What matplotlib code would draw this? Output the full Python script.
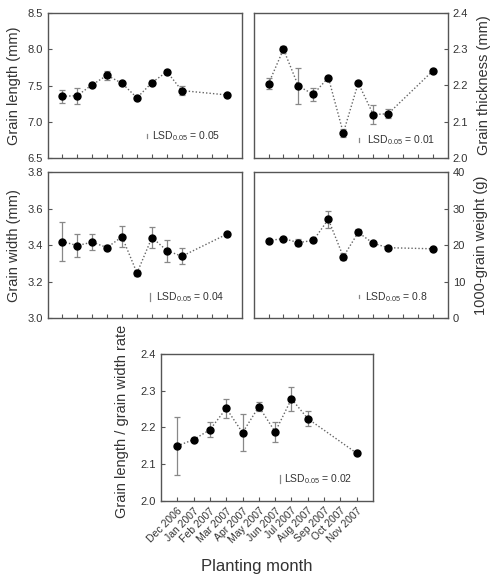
import matplotlib
matplotlib.use("Agg")
import matplotlib.pyplot as plt
import numpy as np

plt.rcParams['font.family'] = ['Liberation Sans', 'DejaVu Sans']
plt.rcParams['mathtext.fontset'] = 'custom'
plt.rcParams['mathtext.rm'] = 'Liberation Sans'
plt.rcParams['mathtext.it'] = 'Liberation Sans:italic'
plt.rcParams['mathtext.bf'] = 'Liberation Sans:bold'

months = ["Dec 2006", "Jan 2007", "Feb 2007", "Mar 2007", "Apr 2007", "May 2007",
          "Jun 2007", "Jul 2007", "Aug 2007", "Sep 2007", "Oct 2007", "Nov 2007"]
sampled = [0, 1, 2, 3, 4, 5, 6, 7, 8, 11]

grain_length = [7.35, 7.36, 7.51, 7.64, 7.53, 7.33, 7.54, 7.69, 7.43, 7.37]
grain_length_err = [0.09, 0.11, 0.02, 0.06, 0.02, 0.02, 0.03, 0.03, 0.06, 0.01]

grain_thickness = [2.205, 2.300, 2.198, 2.176, 2.222, 2.069, 2.207, 2.120, 2.122, 2.241]
grain_thickness_err = [0.016, 0.010, 0.050, 0.018, 0.005, 0.012, 0.005, 0.027, 0.013, 0.004]

grain_width = [3.42, 3.398, 3.416, 3.387, 3.446, 3.247, 3.442, 3.37, 3.339, 3.46]
grain_width_err = [0.105, 0.063, 0.044, 0.012, 0.058, 0.015, 0.06, 0.06, 0.043, 0.008]

grain_weight = [21.25, 21.8, 20.7, 21.3, 27.1, 16.8, 23.5, 20.5, 19.3, 19.0]
grain_weight_err = [0.5, 0.5, 1.0, 0.5, 2.4, 1.0, 0.8, 0.5, 0.4, 0.3]

lw_rate = [2.150, 2.167, 2.194, 2.252, 2.186, 2.257, 2.188, 2.278, 2.224, 2.130]
lw_rate_err = [0.078, 0.004, 0.020, 0.025, 0.050, 0.013, 0.027, 0.033, 0.020, 0.003]

lsd_values = ["0.05", "0.01", "0.04", "0.8", "0.02"]

W, H = 499, 575
fig = plt.figure(figsize=(W / 100, H / 100), dpi=100)

def px_axes(l, t, r, b):
    return fig.add_axes([l / W, 1 - b / H, (r - l) / W, (b - t) / H])

GREY = '#555555'
TXT = '#333333'

def style(ax, ylim, yticks, yfmt, right=False):
    ax.set_xlim(-0.95, 12.0)
    ax.set_ylim(*ylim)
    ax.set_yticks(yticks)
    ax.set_yticklabels([yfmt.format(v) for v in yticks])
    ax.set_xticks(range(len(months)))
    for s in ax.spines.values():
        s.set_color(GREY)
        s.set_linewidth(1.0)
    ax.tick_params(direction='in', length=3, width=0.8, color=GREY,
                   labelsize=8, labelcolor=TXT, top=False)
    if right:
        ax.yaxis.tick_right()
        ax.yaxis.set_label_position('right')
        ax.tick_params(axis='y', direction='in', length=3, left=False, right=True)

def plot_series(ax, y, e):
    x = np.array(sampled)
    ax.plot(x, y, linestyle=(0, (1, 1.5)), color='#666666', lw=1.0, zorder=1)
    ax.errorbar(x, y, yerr=e, fmt='none', ecolor='#888888', elinewidth=0.9,
                capsize=2, capthick=0.9, zorder=2)
    ax.plot(x, y, 'o', color='black', ms=5, zorder=3)

def lsd(ax, xb, yb, val, lsd_len, xt):
    ax.plot([xb, xb], [yb - lsd_len / 2, yb + lsd_len / 2], color='#888888', lw=0.9)
    ax.text(xt, yb, r'LSD$_{0.05}$ = ' + val, fontsize=7.5, color=TXT,
            va='center', ha='left')

# Top-left: grain length
ax1 = px_axes(48, 13, 241.7, 158)
plot_series(ax1, grain_length, grain_length_err)
style(ax1, (6.5, 8.5), [6.5, 7.0, 7.5, 8.0, 8.5], '{:.1f}')
ax1.set_xticklabels([])
ax1.set_ylabel('Grain length (mm)', fontsize=10.5, color=TXT, labelpad=5)
lsd(ax1, 5.7, 6.8, lsd_values[0], 0.05, 6.0)

# Top-right: grain thickness
ax2 = px_axes(254.3, 13, 448, 158)
plot_series(ax2, grain_thickness, grain_thickness_err)
style(ax2, (2.0, 2.4), [2.0, 2.1, 2.2, 2.3, 2.4], '{:.1f}', right=True)
ax2.set_xticklabels([])
ax2.set_ylabel('Grain thickness (mm)', fontsize=10.5, color=TXT, labelpad=6)
lsd(ax2, 6.05, 2.05, lsd_values[1], 0.01, 6.6)

# Middle-left: grain width
ax3 = px_axes(48, 172.3, 241.7, 318)
plot_series(ax3, grain_width, grain_width_err)
style(ax3, (3.0, 3.8), [3.0, 3.2, 3.4, 3.6, 3.8], '{:.1f}')
ax3.set_xticklabels([])
ax3.set_ylabel('Grain width (mm)', fontsize=10.5, color=TXT, labelpad=5)
lsd(ax3, 5.9, 3.116, lsd_values[2], 0.04, 6.25)

# Middle-right: 1000-grain weight
ax4 = px_axes(254.3, 172.3, 448, 318)
plot_series(ax4, grain_weight, grain_weight_err)
style(ax4, (0, 40), [0, 10, 20, 30, 40], '{:.0f}', right=True)
ax4.set_xticklabels([])
ax4.set_ylabel('1000-grain weight (g)', fontsize=10.5, color=TXT, labelpad=6)
lsd(ax4, 6.05, 5.8, lsd_values[3], 0.8, 6.45)

# Bottom: length/width rate
ax5 = px_axes(160.7, 354, 372.7, 501)
plot_series(ax5, lw_rate, lw_rate_err)
style(ax5, (2.0, 2.4), [2.0, 2.1, 2.2, 2.3, 2.4], '{:.1f}')
ax5.set_xlim(-1.02, 11.98)
ax5.set_xticklabels(months, rotation=45, ha='right', rotation_mode='anchor',
                    fontsize=7.5)
ax5.set_ylabel('Grain length / grain width rate', fontsize=10.5, color=TXT)
ax5.yaxis.set_label_coords(-0.148, 0.54)
lsd(ax5, 6.3, 2.06, lsd_values[4], 0.02, 6.55)

fig.text(257 / W, 1 - 566 / H, 'Planting month', fontsize=12, color=TXT,
         ha='center', va='center')

fig.savefig('out.png', dpi=100)
